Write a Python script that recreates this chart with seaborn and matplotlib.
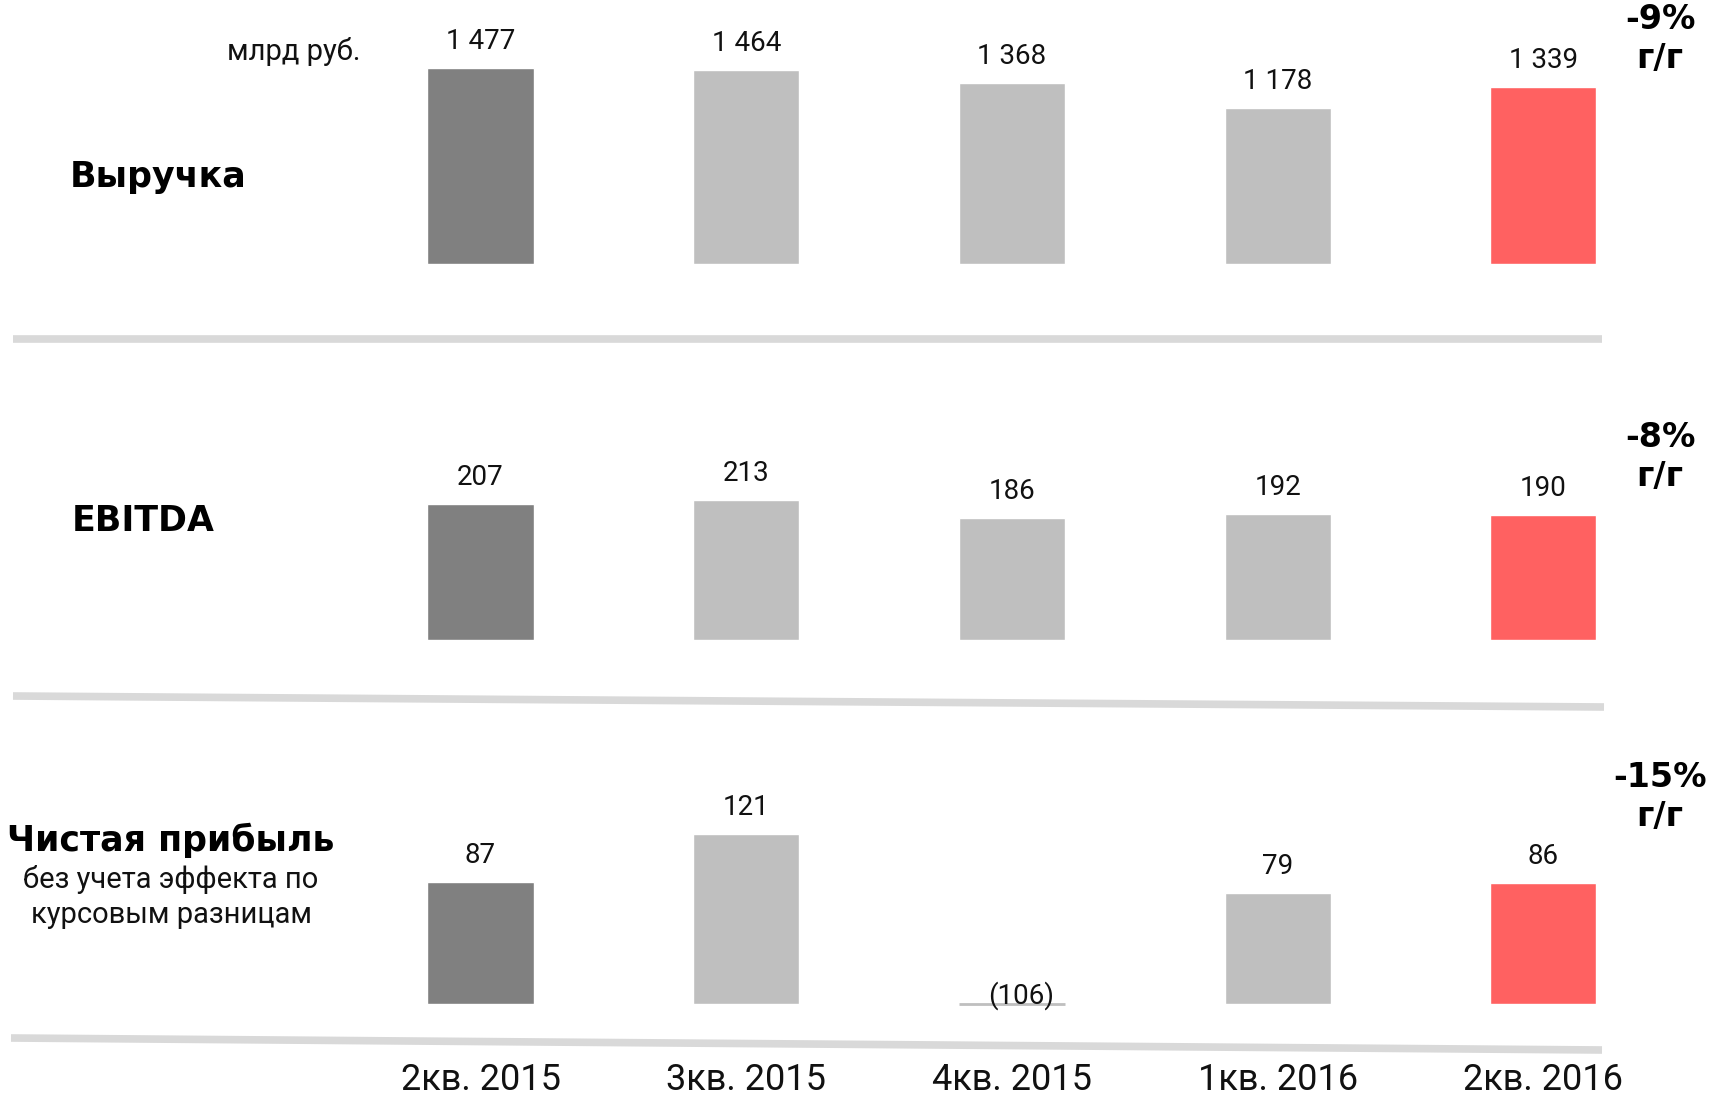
import matplotlib.pyplot as plt
import seaborn as sns
import pandas as pd
from matplotlib.lines import Line2D

# --- Data ---
quarters = ['2кв. 2015', '3кв. 2015', '4кв. 2015', '1кв. 2016', '2кв. 2016']
revenue = [1477, 1464, 1368, 1178, 1339]
ebitda = [207, 213, 186, 192, 190]
net_income = [87, 121, -106, 79, 86]
yoy = ['-9%', '-8%', '-15%']
row_titles = ['Выручка', 'EBITDA', 'Чистая прибыль']
bar_colors = ['#808080', '#bfbfbf', '#bfbfbf', '#bfbfbf', '#ff6161']

sns.set_theme(style='white')
plt.rcParams['font.family'] = ['Roboto', 'DejaVu Sans']

W, H = 1726, 1102
fig = plt.figure(figsize=(W / 100, H / 100), dpi=100)
fig.patch.set_facecolor('white')

NARROW = ['Roboto', 'DejaVu Sans']
BOLD = ['DejaVu Sans']


def fmt(v):
    if v < 0:
        return f'({abs(v)})'
    return f'{v:,}'.replace(',', ' ')


def make_row(values, baseline_px, ppu, ytop):
    left_px, width_px = 347.7, 1328.5
    h_px = ytop * ppu
    ax = fig.add_axes([left_px / W, (H - baseline_px) / H, width_px / W, h_px / H])
    df = pd.DataFrame({'q': quarters, 'v': values})
    sns.barplot(data=df, x='q', y='v', hue='q', palette=bar_colors, legend=False,
                width=0.4, saturation=1, ax=ax)
    ax.set_ylim(0, ytop)
    ax.set_xlim(-0.5, len(quarters) - 0.5)
    for i, v in enumerate(values):
        if v >= 0:
            ax.annotate(fmt(v), (i, v), xytext=(0, 19), textcoords='offset points',
                        ha='center', va='center', fontsize=20, family=NARROW,
                        color='#111111', annotation_clip=False)
        else:
            # negative value shown as a thin line at the baseline
            ax.hlines(0, i - 0.2, i + 0.2, color='#bfbfbf', lw=2, clip_on=False)
            ax.annotate(fmt(v), (i + 0.035, 0), xytext=(0, 6), textcoords='offset points',
                        ha='center', va='center', fontsize=20, family=NARROW,
                        color='#111111', annotation_clip=False)
    ax.set_xlabel('')
    ax.set_ylabel('')
    ax.set_yticks([])
    sns.despine(ax=ax, left=True, bottom=True)
    ax.patch.set_alpha(0)
    return ax


ax1 = make_row(revenue, 264.2, 0.1327, 1600)
ax2 = make_row(ebitda, 639.6, 0.654, 230)
ax3 = make_row(net_income, 1003.9, 1.405, 130)

for ax in (ax1, ax2):
    ax.set_xticks([])
ax3.tick_params(axis='x', length=0, pad=42, labelsize=26)
for lab in ax3.get_xticklabels():
    lab.set_family(NARROW)
    lab.set_color('#111111')


def ftext(x, y, s, **kw):
    fig.text(x / W, 1 - y / H, s, **kw)


# row titles
ftext(158, 177, row_titles[0], ha='center', va='center', fontsize=25,
      fontweight='bold', family=BOLD, color='black')
ftext(143, 521, row_titles[1], ha='center', va='center', fontsize=25,
      fontweight='bold', family=BOLD, color='black')
ftext(171, 840, row_titles[2], ha='center', va='center', fontsize=25,
      fontweight='bold', family=BOLD, color='black')
ftext(171, 880, 'без учета эффекта по', ha='center', va='center', fontsize=21,
      family=NARROW, color='#111111')
ftext(171, 915, 'курсовым разницам', ha='center', va='center', fontsize=21,
      family=NARROW, color='#111111')
ftext(294, 52, 'млрд руб.', ha='center', va='center', fontsize=21,
      family=NARROW, color='#111111')

# year-over-year change
for s, y in zip(yoy, [39, 457, 797]):
    ftext(1660, y, f'{s}\nг/г', ha='center', va='center', fontsize=24,
          fontweight='bold', family=BOLD, color='black', linespacing=1.2)

# separators
sep = '#d9d9d9'
for xs, ys in [([13, 1602], [339, 339]), ([13, 1604], [696, 707]), ([11, 1602], [1038, 1050])]:
    fig.add_artist(Line2D([x / W for x in xs], [1 - y / H for y in ys], lw=5.5,
                          color=sep, solid_capstyle='butt'))

fig.savefig('out.png', dpi=100, facecolor='white')
